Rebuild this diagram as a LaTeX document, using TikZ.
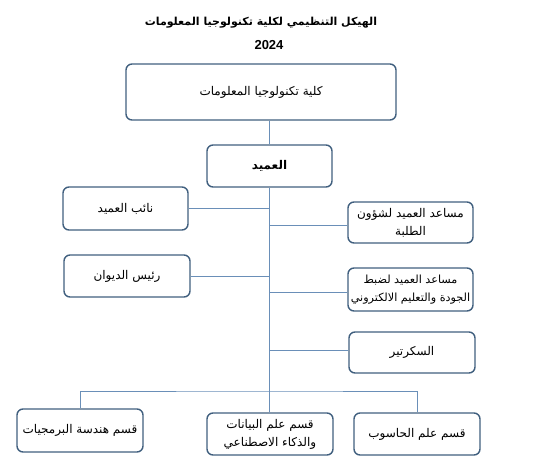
\documentclass[tikz,border=0pt]{standalone}
\usepackage{fontspec}
\TeXXeTstate=1
\newfontfamily\arabicfont[Script=Arabic]{DejaVu Sans}
\newfontfamily\latinbold{Liberation Sans}
\begin{document}
\begin{tikzpicture}[x=1pt,y=-1pt,
  box/.style={draw=boxc, line width=1.4pt, rounded corners=6pt, fill=white,
    align=center, inner sep=2pt, font=\arabicfont\fontsize{12}{18}\selectfont},
  conn/.style={draw=linec, line width=0.8pt}]
\definecolor{boxc}{HTML}{41607F}
\definecolor{linec}{HTML}{6A8FB8}
\useasboundingbox (0,0) rectangle (560,466);
\node[font=\arabicfont\bfseries\fontsize{11}{14}\selectfont] (title) at (261,23) {\beginR الهيكل التنظيمي لكلية تكنولوجيا المعلومات\endR};
\node[font=\latinbold\bfseries\fontsize{13}{14}\selectfont] (year) at (269,45) {2024};
\node[box, minimum width=270pt, minimum height=56pt] (top) at (261,92) {\beginR كلية تكنولوجيا المعلومات\endR};
\node[box, minimum width=125pt, minimum height=42pt] (dean) at (269.5,166) {\bfseries\beginR العميد\endR};
\node[box, minimum width=125pt, minimum height=43pt] (vice) at (125.5,208.5) {\beginR نائب العميد\endR};
\node[box, minimum width=126pt, minimum height=42pt] (diwan) at (127,276) {\beginR رئيس الديوان\endR};
\node[box, minimum width=125pt, minimum height=41pt] (r1) at (410.5,222.5) {\beginR مساعد العميد لشؤون\endR\\\beginR الطلبة\endR};
\node[box, minimum width=125pt, minimum height=43pt, font=\arabicfont\fontsize{11.2}{18}\selectfont] (r2) at (410.5,289.5) {\beginR مساعد العميد لضبط\endR\\\beginR الجودة والتعليم الالكتروني\endR};
\node[box, minimum width=126pt, minimum height=41pt] (r3) at (412,352.5) {\beginR السكرتير\endR};
\node[box, minimum width=126pt, minimum height=43pt] (b1) at (80,430.5) {\beginR قسم هندسة البرمجيات\endR};
\node[box, minimum width=126pt, minimum height=42pt] (b2) at (270,434) {\beginR قسم علم البيانات\endR\\\beginR والذكاء الاصطناعي\endR};
\node[box, minimum width=126pt, minimum height=42pt] (b3) at (417,434) {\beginR قسم علم الحاسوب\endR};
\coordinate (bus) at (270,391);
\draw[conn] (dean.north) -- (dean.north |- top.south);
\draw[conn] (dean.south) -- (dean.south |- b2.north);
\draw[conn] (vice.east) -- (vice.east -| dean.south);
\draw[conn] (diwan.east) -- (diwan.east -| dean.south);
\draw[conn] ([yshift=-2.5pt]r1.west) -- ([yshift=-2.5pt]r1.west -| dean.south);
\draw[conn] ([yshift=-2.5pt]r2.west) -- ([yshift=-2.5pt]r2.west -| dean.south);
\draw[conn] ([yshift=2.5pt]r3.west) -- ([yshift=2.5pt]r3.west -| dean.south);
\draw[conn] (b1.north) |- (bus) -| (b3.north);
\end{tikzpicture}
\end{document}
